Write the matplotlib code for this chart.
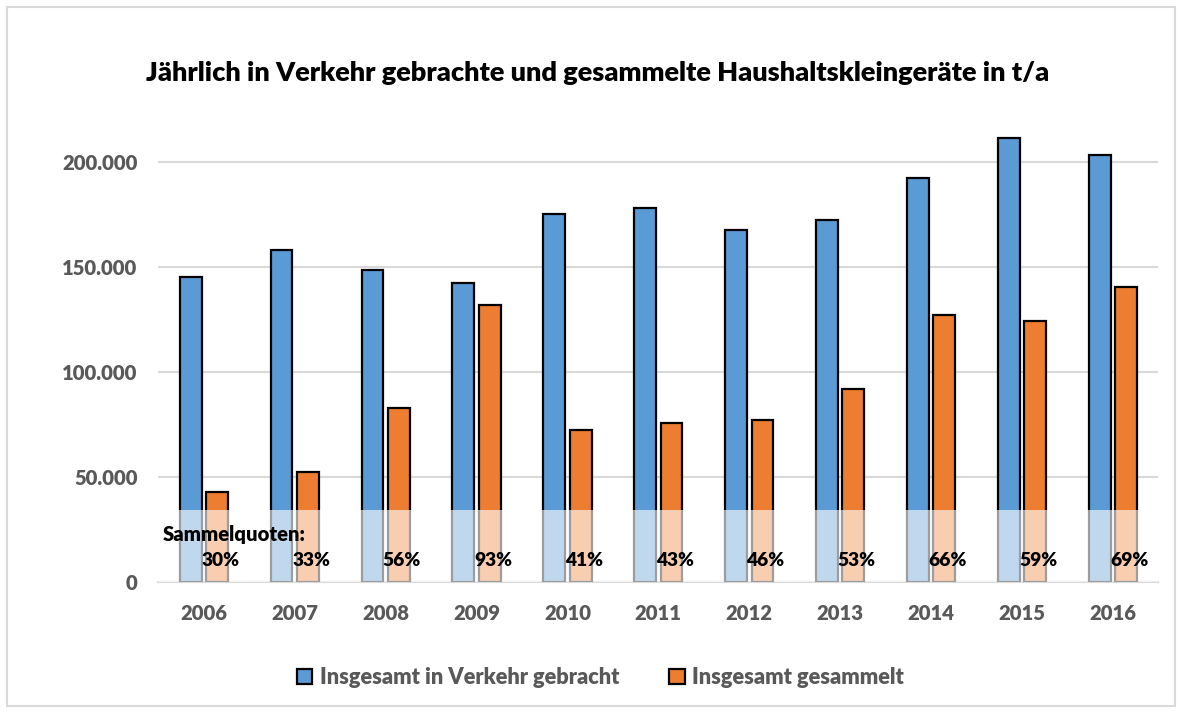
import matplotlib
matplotlib.use("Agg")
import matplotlib.pyplot as plt
from matplotlib.patches import Rectangle
from matplotlib.ticker import FuncFormatter
import numpy as np

years = ["2006", "2007", "2008", "2009", "2010", "2011", "2012", "2013", "2014", "2015", "2016"]
in_verkehr = [145000, 158000, 148500, 142300, 175200, 178000, 167700, 172300, 192300, 211500, 203300]
gesammelt = [42800, 52500, 82800, 131700, 72300, 75700, 77000, 91600, 127000, 124200, 140300]
quoten = ["30%", "33%", "56%", "93%", "41%", "43%", "46%", "53%", "66%", "59%", "69%"]
series_names = ["Insgesamt in Verkehr gebracht", "Insgesamt gesammelt"]
title = "Jährlich in Verkehr gebrachte und gesammelte Haushaltskleingeräte in t/a"

FONT = ["Lato", "DejaVu Sans"]
plt.rcParams["font.family"] = FONT
GRAY = "#595959"
BLUE = "#5B9BD5"
ORANGE = "#ED7D31"

fig = plt.figure(figsize=(11.82, 7.13), dpi=100)
ax = fig.add_axes([0.134, 0.184, 0.846, 0.648])

x = np.arange(len(years))
w = 0.24
off = 0.145
ax.bar(x - off, in_verkehr, width=w, color=BLUE, edgecolor="black", linewidth=1.6, zorder=3,
       label=series_names[0])
ax.bar(x + off, gesammelt, width=w, color=ORANGE, edgecolor="black", linewidth=1.6, zorder=3,
       label=series_names[1])

ax.set_xlim(-0.5, len(years) - 0.5)
ax.set_ylim(0, 220000)
ax.set_yticks([0, 50000, 100000, 150000, 200000])
ax.yaxis.set_major_formatter(FuncFormatter(lambda v, p: f"{int(v):,}".replace(",", ".")))
ax.grid(axis="y", color="#D9D9D9", linewidth=1.5, zorder=0)
for s in ["top", "right", "left"]:
    ax.spines[s].set_visible(False)
ax.spines["bottom"].set_color("#D9D9D9")
ax.spines["bottom"].set_linewidth(1.5)
ax.set_xticks(x)
ax.set_xticklabels(years)
ax.tick_params(axis="both", length=0, colors=GRAY, labelsize=14.6)
ax.tick_params(axis="x", pad=16)
ax.tick_params(axis="y", pad=15)
for lab in ax.get_xticklabels() + ax.get_yticklabels():
    lab.set_fontweight("heavy")

# semi-transparent white box over the lower part
ax.add_patch(Rectangle((-0.5, 0), len(years), 34000, facecolor="white", alpha=0.62,
                       edgecolor="none", zorder=4))

for i, q in enumerate(quoten):
    ax.text(x[i] + 0.18, 10000, q, ha="center", va="center", fontsize=13.8,
            fontweight="heavy", color="black", zorder=5)
ax.text(-0.45, 22500, "Sammelquoten:", ha="left", va="center", fontsize=14.6,
        fontweight="heavy", color="black", zorder=5)

fig.text(0.506, 0.897, title, ha="center", va="center", fontsize=19.5, fontweight="heavy",
         color="black")

leg = fig.legend(loc="center", bbox_to_anchor=(0.508, 0.05), ncol=2, frameon=False,
                 fontsize=15.7, handlelength=0.7, handleheight=0.7, handletextpad=0.35,
                 columnspacing=2.3)
for t in leg.get_texts():
    t.set_color(GRAY)
    t.set_fontweight("heavy")
for h in leg.legend_handles:
    h.set_linewidth(1.6)

fig.add_artist(Rectangle((7 / 1182, 7 / 713), 1168 / 1182, 699 / 713, transform=fig.transFigure,
                         fill=False, edgecolor="#D9D9D9", linewidth=1.5))

fig.savefig("out.png", dpi=100)
